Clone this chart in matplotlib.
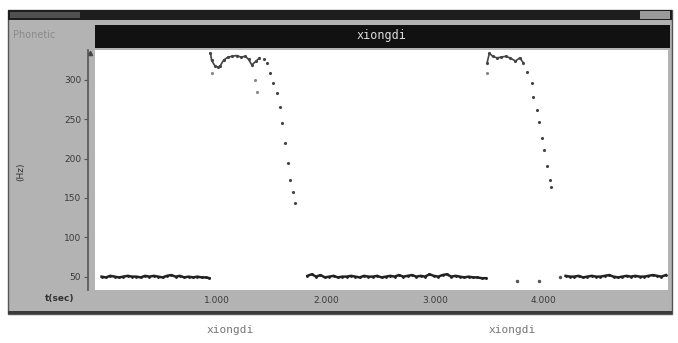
import numpy as np
import matplotlib
matplotlib.use("Agg")
import matplotlib.pyplot as plt
from matplotlib.patches import Rectangle

# low-level (unvoiced / noise) track, ~50 Hz
low1_t = [-0.06, -0.02, 0.02, 0.06, 0.10, 0.14, 0.18, 0.22, 0.26, 0.30, 0.34, 0.38,
          0.42, 0.46, 0.50, 0.54, 0.58, 0.62, 0.66, 0.70, 0.74, 0.78, 0.82, 0.86,
          0.90, 0.93]
low1_f = [50, 49, 51, 50, 49, 50, 51, 50, 50, 49, 51, 50,
          51, 50, 49, 51, 52, 50, 51, 49, 50, 49, 50, 49, 49, 48]
low2_t = [1.83, 1.87, 1.91, 1.95, 1.99, 2.03, 2.07, 2.11, 2.15, 2.19, 2.23, 2.27,
          2.31, 2.35, 2.39, 2.43, 2.47, 2.51, 2.55, 2.59, 2.63, 2.67, 2.71, 2.75,
          2.79, 2.83, 2.87, 2.91, 2.95, 2.99, 3.03, 3.07, 3.11, 3.15, 3.19, 3.23,
          3.27, 3.31, 3.35, 3.39, 3.43, 3.47]
low2_f = [51, 53, 50, 52, 49, 50, 51, 49, 50, 50, 51, 50,
          49, 51, 50, 50, 51, 49, 50, 51, 50, 52, 50, 51,
          52, 50, 51, 50, 53, 51, 50, 52, 53, 50, 51, 50,
          49, 50, 49, 49, 48, 48]
low3_t = [4.20, 4.24, 4.28, 4.32, 4.36, 4.40, 4.44, 4.48, 4.52, 4.56, 4.60, 4.64,
          4.68, 4.72, 4.76, 4.80, 4.84, 4.88, 4.92, 4.96, 5.00, 5.04, 5.08, 5.12]
low3_f = [51, 50, 50, 51, 49, 50, 51, 50, 50, 51, 52, 50,
          49, 50, 51, 50, 51, 50, 50, 51, 52, 51, 50, 52]
stray_t = [3.75, 3.96, 4.15]
stray_f = [44, 45, 49]

# pitch contour of first "xiongdi"
c1_t = [0.94, 0.95, 0.98, 1.01, 1.03, 1.06, 1.10, 1.14, 1.18, 1.22, 1.26, 1.29,
        1.32, 1.36, 1.39, 1.43, 1.46, 1.49, 1.51, 1.55, 1.58, 1.60, 1.62, 1.65,
        1.67, 1.70, 1.72]
c1_f = [334, 325, 318, 316, 318, 325, 329, 330, 331, 329, 330, 326,
        319, 324, 328, 326, 322, 309, 296, 283, 266, 245, 220, 195,
        173, 157, 144]
c1x_t = [0.95, 1.35, 1.37]
c1x_f = [309, 300, 285]

# pitch contour of second "xiongdi"
c2_t = [3.48, 3.50, 3.53, 3.57, 3.61, 3.65, 3.69, 3.74, 3.78, 3.81, 3.85, 3.89,
        3.90, 3.94, 3.96, 3.98, 4.00, 4.03, 4.06, 4.07]
c2_f = [322, 334, 330, 328, 329, 330, 328, 324, 328, 322, 310, 296,
        278, 262, 247, 226, 211, 190, 173, 164]
c2x_t = [3.48]
c2x_f = [309]

yticks = [50, 100, 150, 200, 250, 300]
xticks = [1, 2, 3, 4]

W, H = 678, 343
fig = plt.figure(figsize=(W / 100, H / 100), dpi=100)
fig.patch.set_facecolor("white")


def box(x0, y0, x1, y1, **kw):
    # rectangle in pixel coords (y from top), drawn under the axes
    fig.patches.append(Rectangle((x0 / W, 1 - y1 / H), (x1 - x0) / W, (y1 - y0) / H,
                                 transform=fig.transFigure, zorder=-5, **kw))


# window panel + title bar
box(8, 10, 672, 314, facecolor="#b3b3b3", edgecolor="#555555", lw=1)
box(8, 10, 672, 20, facecolor="#1e1e1e", edgecolor="none")
box(10, 12, 80, 18, facecolor="#505050", edgecolor="none")
box(640, 11, 670, 19, facecolor="#9a9a9a", edgecolor="none")
box(8, 311, 672, 314, facecolor="#3a3a3a", edgecolor="none")
# header bar
box(95, 25, 670, 48, facecolor="#111111", edgecolor="none")
fig.text(382 / W, 1 - 36 / H, "xiongdi", color="#dddddd", fontsize=8.5,
         family="DejaVu Sans Mono", ha="center", va="center")
fig.text(13 / W, 1 - 35 / H, "Phonetic", color="#8a8a8a", fontsize=7,
         ha="left", va="center")

ax = fig.add_axes([95 / W, 1 - 290 / H, (668 - 95) / W, (290 - 50) / H])
ax.set_facecolor("white")
ax.set_xlim(-0.12, 5.14)
ax.set_ylim(33, 338)

for tt, ff in [(low1_t, low1_f), (low2_t, low2_f), (low3_t, low3_f)]:
    ax.plot(tt, ff, "-", color="#222222", lw=1.8)
    ax.plot(tt, ff, ".", color="#222222", ms=2)
ax.plot(stray_t, stray_f, ".", color="#555555", ms=3)

ax.plot(c1_t[:15], c1_f[:15], "-", color="#444444", lw=1.2)
ax.plot(c1_t, c1_f, ".", color="#444444", ms=2.5)
ax.plot(c1x_t, c1x_f, ".", color="#888888", ms=2.5)
ax.plot(c2_t[:10], c2_f[:10], "-", color="#444444", lw=1.2)
ax.plot(c2_t, c2_f, ".", color="#444444", ms=2.5)
ax.plot(c2x_t, c2x_f, ".", color="#888888", ms=2.5)

for s in ["top", "right", "bottom"]:
    ax.spines[s].set_visible(False)
ax.spines["left"].set_position(("outward", 5))
ax.spines["left"].set_color("#555555")
ax.spines["left"].set_linewidth(1.2)
ax.set_yticks(yticks)
ax.set_yticklabels([str(v) for v in yticks], fontsize=6.5, color="#3a3a3a")
ax.set_xticks(xticks)
ax.set_xticklabels(["%.3f" % v for v in xticks], fontsize=6.5, color="#3a3a3a")
ax.tick_params(axis="y", length=3, color="#555555", pad=2)
ax.tick_params(axis="x", length=0, pad=4)
ax.plot([-0.167], [334], marker="^", color="#444444", ms=3, clip_on=False)

fig.text(60 / W, 1 - 298 / H, "t(sec)", color="#333333", fontsize=6.5,
         fontweight="bold", ha="center", va="center")
fig.text(21 / W, 1 - 172 / H, "(Hz)", color="#333333", fontsize=6.5,
         rotation=90, ha="center", va="center")

fig.text(230 / W, 1 - 330 / H, "xiongdi", color="#777777", fontsize=8,
         family="DejaVu Sans Mono", ha="center", va="center")
fig.text(512 / W, 1 - 330 / H, "xiongdi", color="#777777", fontsize=8,
         family="DejaVu Sans Mono", ha="center", va="center")

fig.savefig("out.png", dpi=100)
